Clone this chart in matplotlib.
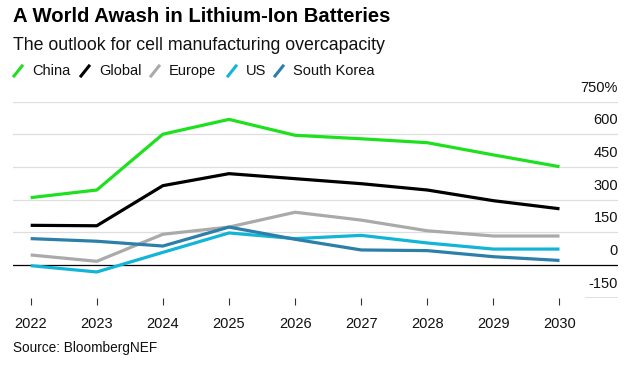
import matplotlib
matplotlib.use("Agg")
import matplotlib.pyplot as plt
from matplotlib.lines import Line2D

# ── Data (percent overcapacity) ───────────────────────
years = [2022, 2023, 2024, 2025, 2026, 2027, 2028, 2029, 2030]
china = [309, 344, 600, 668, 595, 579, 561, 505, 451]
global_ = [182, 180, 364, 419, 396, 373, 344, 295, 258]
europe = [46, 17, 141, 174, 242, 206, 157, 133, 133]
us = [-3, -32, 58, 147, 121, 136, 101, 73, 73]
south_korea = [121, 109, 87, 174, 118, 69, 66, 38, 21]

series_names = ["China", "Global", "Europe", "US", "South Korea"]
series_values = [china, global_, europe, us, south_korea]
series_colors = ["#1fe01f", "#000000", "#aaaaaa", "#12b4d8", "#2b7fa8"]

y_ticks = [-150, 0, 150, 300, 450, 600, 750]
y_labels = ["-150", "0", "150", "300", "450", "600", "750%"]

plt.rcParams["font.family"] = ["Liberation Sans", "DejaVu Sans"]

W, H = 644, 368
fig = plt.figure(figsize=(W / 100, H / 100), dpi=100)

# axes in pixel geometry: x 12.7..618, y 101.5..297.7
ax = fig.add_axes([12.7 / W, 1 - 297.7 / H, (618 - 12.7) / W, (297.7 - 101.5) / H])
ax.set_xlim(2021.728, 2030.885)
ax.set_ylim(-150, 750)
for s in ax.spines.values():
    s.set_visible(False)
ax.set_yticks([])
ax.set_xticks(years)
ax.set_xticklabels([str(y) for y in years], fontsize=10.5, color="#111111")
ax.tick_params(axis="x", length=5, width=0.8, color="#333333", pad=9)
ax.patch.set_alpha(0)

# gridlines + right-side labels
for v, lab in zip(y_ticks, y_labels):
    if v == -150:
        ax.axhline(v, xmin=(2030.386 - 2021.728) / (2030.885 - 2021.728), xmax=1,
                   color="#000000", lw=0.9, zorder=1)
    elif v == 0:
        ax.axhline(v, color="#000000", lw=0.9, zorder=1)
    else:
        ax.axhline(v, color="#dedede", lw=0.9, zorder=0)
    ax.annotate(lab, xy=(1, v), xycoords=("axes fraction", "data"),
                xytext=(0, 5), textcoords="offset points",
                ha="right", va="bottom", fontsize=10.5, color="#111111")

for name, vals, c in zip(series_names, series_values, series_colors):
    ax.plot(years, vals, color=c, lw=2.3, solid_capstyle="butt", zorder=3)

# title / subtitle
fig.text(13 / W, 1 - 17 / H, "A World Awash in Lithium-Ion Batteries",
         fontsize=14.6, fontweight="bold", va="center", ha="left")
fig.text(13 / W, 1 - 46 / H, "The outlook for cell manufacturing overcapacity",
         fontsize=12.8, va="center", ha="left", color="#111111")

# legend (manual, diagonal line markers)
leg_x = [14, 81, 151, 228, 275]
for x0, name, c in zip(leg_x, series_names, series_colors):
    fig.add_artist(Line2D([x0 / W, (x0 + 8) / W], [1 - 76 / H, 1 - 66 / H],
                          color=c, lw=2.2, transform=fig.transFigure))
    fig.text((x0 + 18) / W, 1 - 71 / H, name, fontsize=10.5, va="center",
             ha="left", color="#111111")

fig.text(13 / W, 1 - 348 / H, "Source: BloombergNEF", fontsize=9.8,
         va="center", ha="left", color="#111111")

fig.savefig("out.png", dpi=100)
